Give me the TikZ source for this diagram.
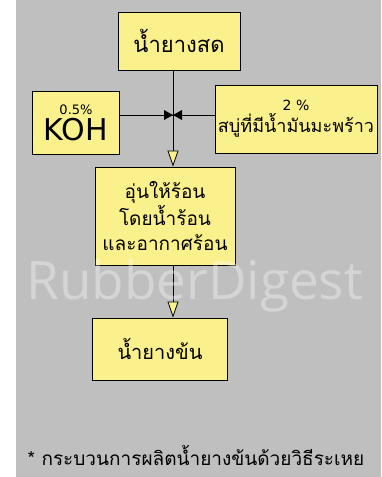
\documentclass[tikz,border=0pt]{standalone}
\usepackage{fontspec}
\setmainfont{DejaVu Sans}
\newfontfamily\thaifont[Script=Thai]{Loma}
\newfontfamily\markfont{Open Sans}
\usetikzlibrary{arrows.meta}
\definecolor{paper}{RGB}{191,191,191}
\definecolor{note}{RGB}{250,240,140}

\begin{document}
\begin{tikzpicture}[
            x = 1pt, y = -1pt, % pixel grid, y runs down
            > = {Triangle[length=16pt, width=11pt, fill=note]}, % arrow head style
            line width = 0.8pt % line style
        ]

        \tikzstyle{box}=[
            draw = black,
            fill = note,
            line width = 0.9pt,
            align = center,
            inner sep = 2pt
        ]

        % paper
        \fill[paper] (0,0) rectangle (381,477);
        \fill[white] (0,0) rectangle (16,477);
        \useasboundingbox (0,0) rectangle (381,477);
        \clip (0,0) rectangle (381,477);

        \node[box, minimum width=122pt, minimum height=58pt,
              font=\thaifont\fontsize{22}{24}\selectfont] (L) at (179,41) {น้ำยางสด};
        \node[box, minimum width=87pt, minimum height=63pt] (K) at (76,123)
            {{\fontsize{13}{15}\selectfont 0.5\%}\\[3pt]{\fontsize{30}{32}\selectfont KOH}};
        \node[box, minimum width=162pt, minimum height=68pt] (S) at (296,119)
            {{\fontsize{14}{16}\selectfont 2 \%}\\[2pt]{\thaifont\fontsize{18}{20}\selectfont สบู่ที่มีน้ำมันมะพร้าว}};
        \node[box, minimum width=140pt, minimum height=98pt,
              font=\thaifont\fontsize{19}{25}\selectfont] (H) at (165,216)
            {อุ่นให้ร้อน\\โดยน้ำร้อน\\และอากาศร้อน};
        \node[box, minimum width=135pt, minimum height=62pt,
              font=\thaifont\fontsize{20}{22}\selectfont] (C) at (160,349) {น้ำยางข้น};

        % valve on the main line
        \coordinate (V) at (173,115);
        \draw (L.south -| V) -- (V);
        \draw (V) -- (V -| K.east);
        \draw (V) -- (V -| S.west);
        \fill (V) -- ++(-9,-5) -- ++(0,10) -- cycle;
        \fill (V) -- ++(9,-5) -- ++(0,10) -- cycle;

        \draw[->] (V) -- (H.north -| V);
        \draw[->] (H.south -| V) -- (C.north -| V);

        % note
        \node[anchor=west, font=\thaifont\fontsize{19}{20}\selectfont] (N) at (24,455)
            {* กระบวนการผลิตน้ำยางข้นด้วยวิธีระเหย};

        % watermark
        \node[anchor=west, text=white, opacity=0.35, inner sep=0pt] (W) at (26,286)
            {\markfont\fontsize{53}{53}\selectfont RubberDigest};

    \end{tikzpicture}
\end{document}
